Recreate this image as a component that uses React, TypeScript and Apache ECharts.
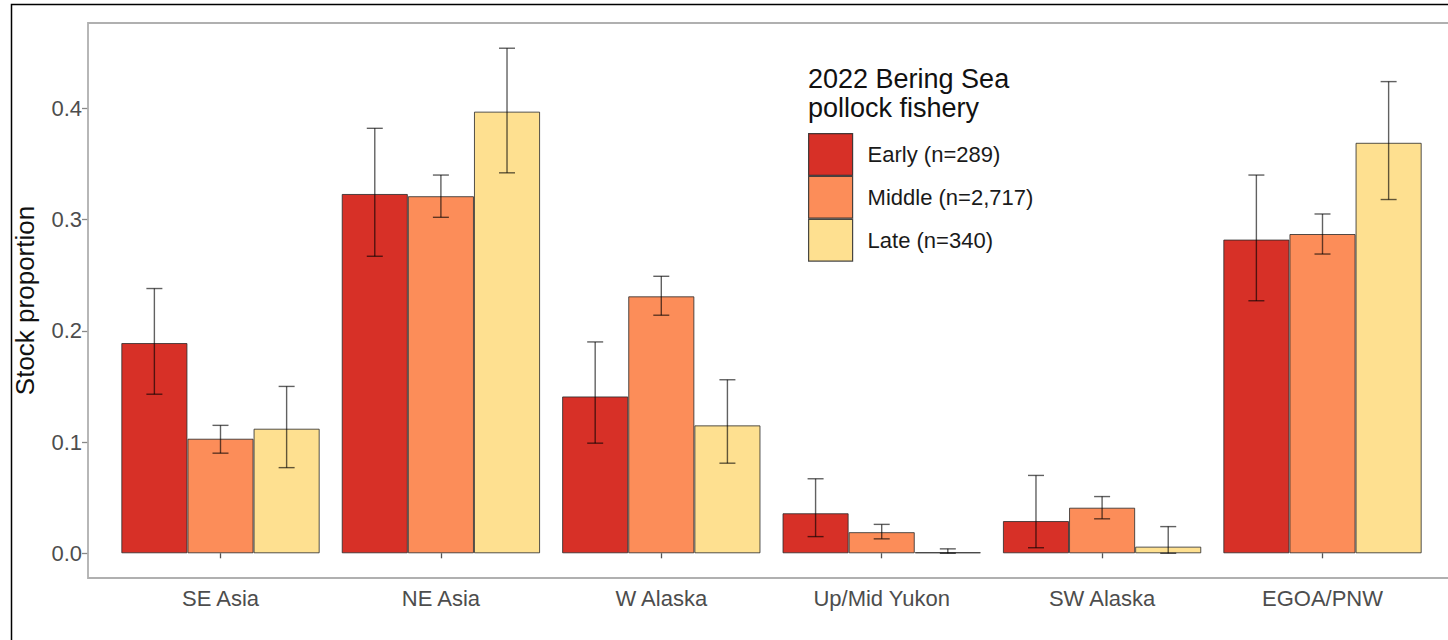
import React, { useEffect, useRef } from "react";
import * as echarts from "echarts";

// Stock groups along the x axis
const categories = ["SE Asia", "NE Asia", "W Alaska", "Up/Mid Yukon", "SW Alaska", "EGOA/PNW"];

// Fishery periods (legend entries)
const periods = ["Early (n=289)", "Middle (n=2,717)", "Late (n=340)"];
const periodColors = ["#D73027", "#FC8D59", "#FEE090"];

// Stock proportion estimates and interval bounds per period
const early = [0.189, 0.323, 0.141, 0.036, 0.029, 0.282];
const earlyLow = [0.143, 0.267, 0.099, 0.015, 0.005, 0.227];
const earlyHigh = [0.238, 0.382, 0.19, 0.067, 0.07, 0.34];

const middle = [0.103, 0.321, 0.231, 0.019, 0.041, 0.287];
const middleLow = [0.09, 0.302, 0.214, 0.013, 0.031, 0.269];
const middleHigh = [0.115, 0.34, 0.249, 0.026, 0.051, 0.305];

const late = [0.112, 0.397, 0.115, 0.001, 0.006, 0.369];
const lateLow = [0.077, 0.342, 0.081, 0.0, 0.0, 0.318];
const lateHigh = [0.15, 0.454, 0.156, 0.004, 0.024, 0.424];

const yTicks = [0, 0.1, 0.2, 0.3, 0.4];

const FONT = "'Liberation Sans', Arial, Helvetica, sans-serif";

export default function App() {
  const ref = useRef<HTMLDivElement>(null);

  useEffect(() => {
    if (!ref.current) return;
    const chart = echarts.init(ref.current, undefined, { renderer: "svg" });

    const values = [early, middle, late];
    const lows = [earlyLow, middleLow, lateLow];
    const highs = [earlyHigh, middleHigh, lateHigh];

    const barSeries = periods.map((name, g) => ({
      name,
      type: "bar",
      data: values[g],
      barWidth: "30%",
      barGap: "0%",
      itemStyle: {
        color: periodColors[g],
        borderColor: "rgba(40,40,40,0.8)",
        borderWidth: 1,
      },
      emphasis: { disabled: true },
      z: 2,
    }));

    const errData: number[][] = [];
    for (let g = 0; g < 3; g++) {
      for (let i = 0; i < categories.length; i++) {
        errData.push([i, g, lows[g][i], highs[g][i]]);
      }
    }

    const errStyle = { stroke: "rgba(0,0,0,0.62)", lineWidth: 1.4 };

    const errorSeries = {
      name: "interval",
      type: "custom",
      data: errData,
      encode: { x: 0, y: [2, 3] },
      silent: true,
      z: 5,
      renderItem: (_params: any, api: any) => {
        const idx = api.value(0);
        const g = api.value(1);
        const lo = api.coord([idx, api.value(2)]);
        const hi = api.coord([idx, api.value(3)]);
        const band = api.size([1, 0])[0];
        const x = lo[0] + (g - 1) * band * 0.3;
        const cap = 8;
        return {
          type: "group",
          children: [
            { type: "line", shape: { x1: x, y1: lo[1], x2: x, y2: hi[1] }, style: errStyle },
            { type: "line", shape: { x1: x - cap, y1: lo[1], x2: x + cap, y2: lo[1] }, style: errStyle },
            { type: "line", shape: { x1: x - cap, y1: hi[1], x2: x + cap, y2: hi[1] }, style: errStyle },
          ],
        };
      },
    };

    chart.setOption({
      animation: false,
      backgroundColor: "#ffffff",
      textStyle: { fontFamily: FONT },
      grid: { left: 110.3, right: 15.3, top: 108.3, bottom: 86.7, containLabel: false },
      xAxis: {
        type: "category",
        data: categories,
        offset: 25,
        axisLine: { show: false },
        axisTick: { show: true, alignWithLabel: true, length: 5, lineStyle: { color: "#555", width: 1.3 } },
        axisLabel: { fontSize: 22, color: "#4d4d4d", margin: 9, fontFamily: FONT },
        splitLine: { show: false },
      },
      yAxis: {
        type: "value",
        min: yTicks[0],
        max: yTicks[yTicks.length - 1],
        interval: 0.1,
        offset: 22.3,
        axisLine: { show: false },
        axisTick: { show: true, length: 6, lineStyle: { color: "#888", width: 1.3 } },
        axisLabel: {
          fontSize: 22,
          color: "#4d4d4d",
          margin: 6,
          fontFamily: FONT,
          formatter: (v: number) => v.toFixed(1),
        },
        splitLine: { show: false },
      },
      legend: {
        data: periods,
        orient: "vertical",
        left: 808,
        top: 133,
        padding: 0,
        itemWidth: 44,
        itemHeight: 41.7,
        itemGap: 0,
        icon: "rect",
        selectedMode: false,
        itemStyle: { borderColor: "rgba(40,40,40,0.85)", borderWidth: 1.2 },
        textStyle: { fontSize: 22, color: "#1a1a1a", fontFamily: FONT, padding: [0, 0, 0, 10] },
      },
      graphic: [
        // outer frame
        {
          type: "rect",
          shape: { x: 11.5, y: 4.5, width: 1500, height: 700 },
          style: { fill: "none", stroke: "#000", lineWidth: 1.5 },
          silent: true,
          z: 0,
        },
        // panel border
        {
          type: "rect",
          shape: { x: 88, y: 23, width: 1366, height: 555 },
          style: { fill: "none", stroke: "#b0b0b0", lineWidth: 1.8 },
          silent: true,
          z: 1,
        },
        // y axis title
        {
          type: "text",
          x: 25,
          y: 300.5,
          rotation: Math.PI / 2,
          style: {
            text: "Stock proportion",
            fontSize: 26,
            fontFamily: FONT,
            fill: "#111",
            align: "center",
            verticalAlign: "middle",
          },
          silent: true,
        },
        // legend title
        {
          type: "text",
          x: 808,
          y: 64,
          style: {
            text: "2022 Bering Sea\npollock fishery",
            fontSize: 27,
            lineHeight: 29,
            fontFamily: FONT,
            fill: "#111",
            align: "left",
            verticalAlign: "top",
          },
          silent: true,
        },
      ],
      series: [...barSeries, errorSeries],
    });

    return () => chart.dispose();
  }, []);

  return (
    <div
      ref={ref}
      style={{ position: "absolute", left: 0, top: 0, width: 1448, height: 640 }}
    />
  );
}
